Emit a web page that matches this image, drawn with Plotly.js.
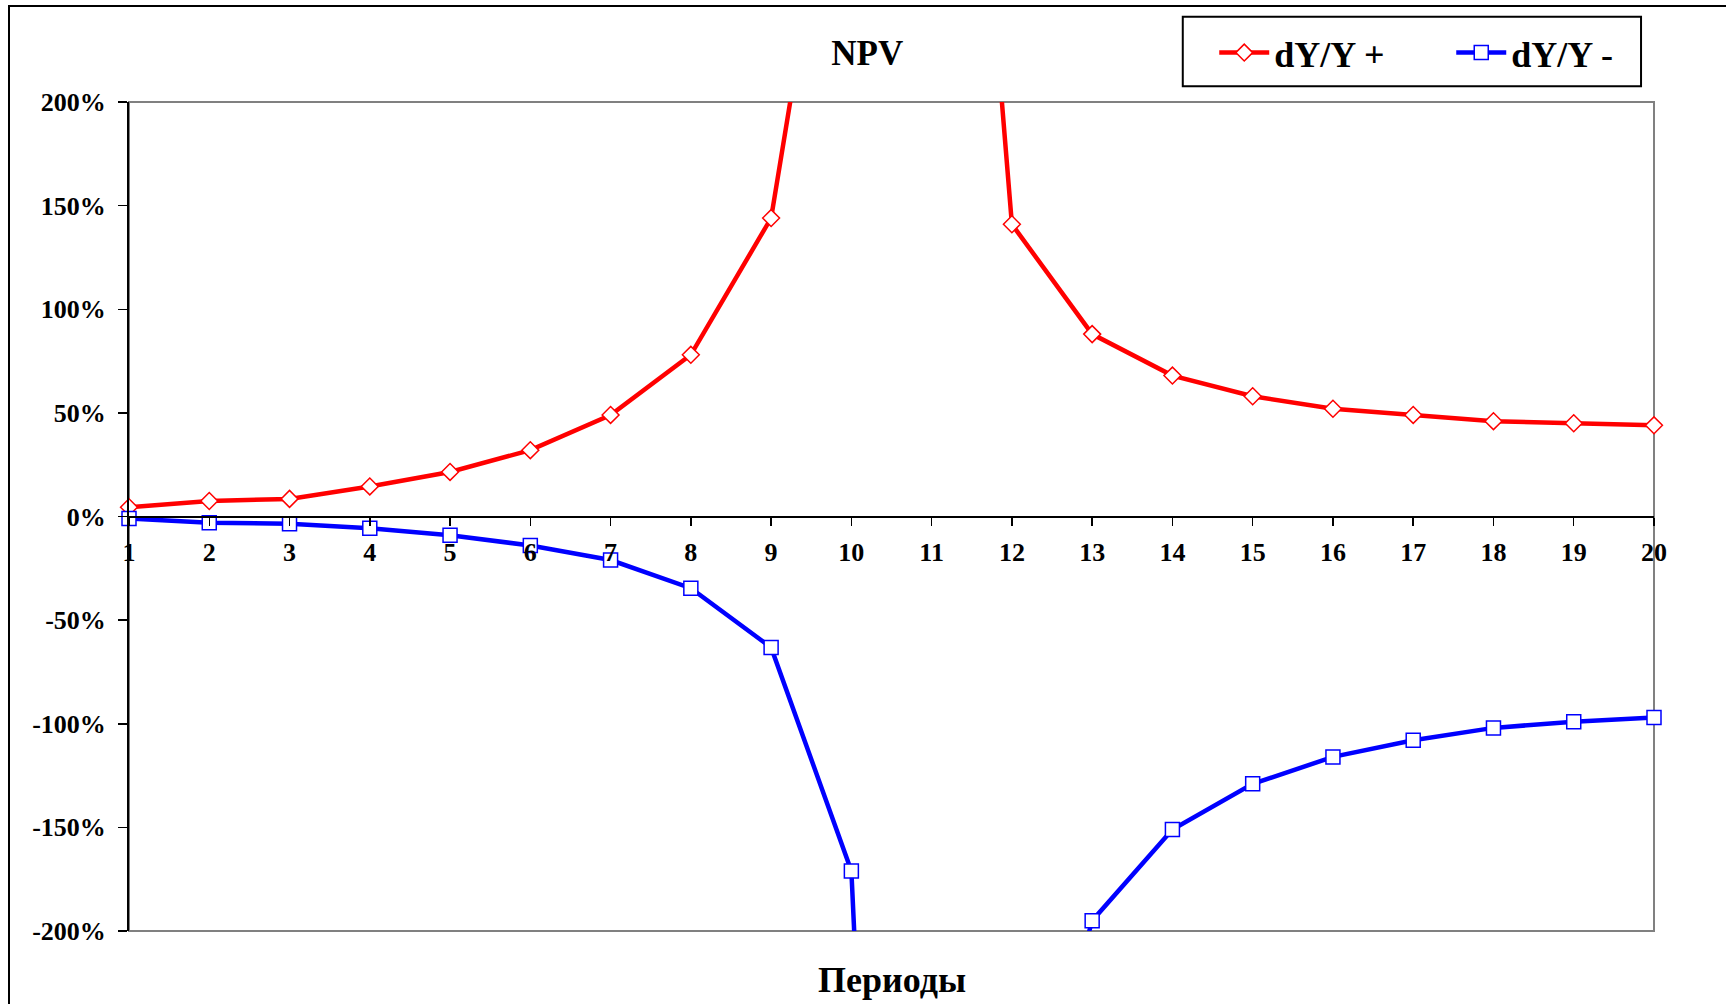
<!DOCTYPE html>
<html>
<head>
<meta charset="utf-8">
<script src="https://cdn.plot.ly/plotly-3.0.1.min.js"></script>
<style>
  html, body { margin: 0; padding: 0; background: #ffffff; overflow: hidden; }
  #wrap { position: relative; width: 1726px; height: 1004px; }
  #chart { position: absolute; left: 0; top: 0; width: 1726px; height: 1004px; }
  #frame {
    position: absolute; left: 8px; top: 5px; width: 3000px; height: 3000px;
    border-left: 2px solid #000; border-top: 2px solid #000; pointer-events: none;
  }
</style>
</head>
<body>
<div id="wrap">
  <div id="chart"></div>
  <div id="frame"></div>
</div>
<script>
// Periods on the horizontal axis
const periods = [1, 2, 3, 4, 5, 6, 7, 8, 9, 10, 11, 12, 13, 14, 15, 16, 17, 18, 19, 20];

// Relative change of NPV, percent
const dyPlus  = [4.5, 7.5, 8.5, 14.5, 21.5, 32, 49, 78, 144, 400, 615, 141, 88, 68, 58, 52, 49, 46, 45, 44];
const dyMinus = [-1, -3, -3.5, -5.7, -9, -14, -21, -34.6, -63.2, -171, -1000, -335, -195, -151, -129, -116, -108, -102, -99, -97];

const seriesNames = ['dY/Y +', 'dY/Y -'];

// Value axis ticks
const yTicks = [-200, -150, -100, -50, 0, 50, 100, 150, 200];
const yTickText = ['-200%', '-150%', '-100%', '-50%', '0%', '50%', '100%', '150%', '200%'];
const yGrid = [-150, -100, -50, 50, 100, 150];

const yMin = -200, yMax = 200;
const serif = 'Liberation Serif, Times New Roman, serif';

const traces = [
  {
    x: periods, y: dyPlus, name: seriesNames[0], type: 'scatter', mode: 'lines+markers',
    cliponaxis: false,
    line: { color: '#ff0000', width: 4.5 },
    marker: { symbol: 'diamond', size: 13, color: '#ffffff', line: { color: '#ff0000', width: 1.5 } }
  },
  {
    x: periods, y: dyMinus, name: seriesNames[1], type: 'scatter', mode: 'lines+markers',
    cliponaxis: false,
    line: { color: '#0000ff', width: 4.5 },
    marker: { symbol: 'square', size: 14, color: '#ffffff', line: { color: '#0000ff', width: 1.5 } }
  }
];

const layout = {
  width: 1726, height: 1004,
  margin: { l: 129, r: 72, t: 102, b: 73 },
  paper_bgcolor: '#ffffff', plot_bgcolor: '#ffffff',
  showlegend: true,
  font: { family: serif, color: '#000000' },
  title: {
    text: 'NPV', xref: 'container', yref: 'container',
    x: 0.5025, xanchor: 'center', y: 0.947, yanchor: 'middle',
    font: { family: serif, size: 35, weight: 700, color: '#000000' }
  },
  xaxis: {
    range: [periods[0], periods[periods.length - 1]],
    anchor: 'free',
    position: (0 - yMin) / (yMax - yMin),
    tickvals: periods,
    ticktext: periods.map(String),
    showgrid: false, zeroline: false,
    showline: true, linecolor: '#000000', linewidth: 2,
    ticks: 'outside', ticklen: 8, tickwidth: 1.5, tickcolor: '#000000',
    ticklabelstandoff: 4,
    tickfont: { family: serif, size: 26, weight: 700, color: '#000000' }
  },
  yaxis: {
    range: [yMin, yMax],
    tickvals: yTicks, ticktext: yTickText,
    showgrid: false, zeroline: false,
    showline: true, linecolor: '#000000', linewidth: 2,
    ticks: 'outside', ticklen: 9, tickwidth: 1.5, tickcolor: '#000000',
    ticklabelstandoff: 7,
    tickfont: { family: serif, size: 26, weight: 700, color: '#000000' }
  },
  yaxis2: {
    overlaying: 'y', range: [yMin, yMax],
    tickvals: yGrid, showticklabels: false, ticks: '',
    showgrid: true, gridcolor: '#000000', gridwidth: 2,
    zeroline: false, showline: false
  },
  shapes: [
    {
      type: 'rect', xref: 'x domain', yref: 'y domain', x0: 0, x1: 1, y0: 0, y1: 1,
      line: { color: '#808080', width: 2 }, layer: 'below'
    },
    {
      // legend frame
      type: 'rect', xref: 'paper', yref: 'paper',
      x0: 0.691, x1: 0.9915, y0: 1.019, y1: 1.1028,
      line: { color: '#000000', width: 2 }, fillcolor: 'rgba(0,0,0,0)', layer: 'above'
    }
  ],
  legend: {
    orientation: 'h', xref: 'container', yref: 'container',
    x: 0.7035, xanchor: 'left', y: 0.9475, yanchor: 'middle',
    bgcolor: 'rgba(0,0,0,0)', borderwidth: 0,
    itemwidth: 50, entrywidth: 172,
    font: { family: serif, size: 36, weight: 700, color: '#000000' }
  },
  annotations: [
    {
      text: 'Периоды', xref: 'paper', yref: 'paper', x: 0.5, y: -0.0595,
      xanchor: 'center', yanchor: 'middle', showarrow: false,
      font: { family: serif, size: 36, weight: 700, color: '#000000' }
    }
  ]
};

Plotly.newPlot('chart', traces, layout, { displayModeBar: false, staticPlot: true });
</script>
</body>
</html>
